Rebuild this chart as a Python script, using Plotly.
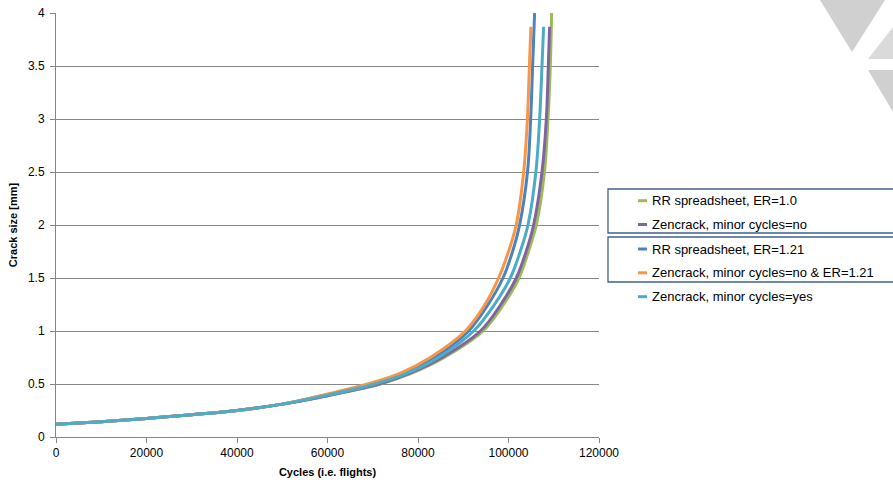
import plotly.graph_objects as go

# ---------------- data ----------------
series_names = [
    "RR spreadsheet, ER=1.0",
    "Zencrack, minor cycles=no",
    "RR spreadsheet, ER=1.21",
    "Zencrack, minor cycles=no & ER=1.21",
    "Zencrack, minor cycles=yes",
]
series_colors = ["#9BBB59", "#8064A2", "#4F81BD", "#F79646", "#4BACC6"]

# common early part of all curves
common_cycles = [0, 10000, 20000, 30000, 40000, 50000]
common_crack = [0.12, 0.145, 0.175, 0.21, 0.25, 0.31]

# individual later parts
green_cycles = [60000, 71700, 78500, 85800, 94360, 98900, 102300, 104400, 106140, 107950, 108730, 109240, 109530]
green_crack = [0.39, 0.5, 0.6, 0.75, 1.0, 1.25, 1.5, 1.75, 2.0, 2.5, 3.0, 3.5, 4.0]

purple_cycles = [60000, 71400, 78100, 85300, 93780, 98300, 101720, 103900, 105550, 107400, 108360, 108800, 109080]
purple_crack = [0.39, 0.5, 0.6, 0.75, 1.0, 1.25, 1.5, 1.75, 2.0, 2.5, 3.0, 3.5, 3.87]

blue_cycles = [60000, 69600, 76800, 83700, 91190, 95500, 98780, 100900, 102450, 104200, 104900, 105330, 105770]
blue_crack = [0.40, 0.5, 0.6, 0.75, 1.0, 1.25, 1.5, 1.75, 2.0, 2.5, 3.0, 3.5, 4.0]

orange_cycles = [60000, 68800, 76000, 82700, 90450, 94800, 97800, 100000, 101700, 103350, 104180, 104620, 104950]
orange_crack = [0.405, 0.5, 0.6, 0.75, 1.0, 1.25, 1.5, 1.75, 2.0, 2.5, 3.0, 3.5, 3.87]

teal_cycles = [60000, 70500, 77500, 84500, 92300, 96900, 100400, 102600, 104300, 106050, 106880, 107400, 107760]
teal_crack = [0.395, 0.5, 0.6, 0.75, 1.0, 1.25, 1.5, 1.75, 2.0, 2.5, 3.0, 3.5, 3.87]

x_ticks = [0, 20000, 40000, 60000, 80000, 100000, 120000]
y_ticks = [0, 0.5, 1, 1.5, 2, 2.5, 3, 3.5, 4]

series_x = [green_cycles, purple_cycles, blue_cycles, orange_cycles, teal_cycles]
series_y = [green_crack, purple_crack, blue_crack, orange_crack, teal_crack]

# ---------------- layout geometry ----------------
W, H = 893, 485
ML, MR, MT, MB = 56, 294, 13, 48
PW = W - ML - MR
PH = H - MT - MB


def px(xpage):
    return (xpage - ML) / PW


def py(ypage):
    return (H - MB - ypage) / PH


fig = go.Figure()
for name, color, xs, ys in zip(series_names, series_colors, series_x, series_y):
    fig.add_trace(go.Scatter(
        x=common_cycles + xs,
        y=common_crack + ys,
        mode="lines",
        name=name,
        line=dict(color=color, width=3, shape="spline", smoothing=1.0),
        showlegend=False,
        cliponaxis=False,
        hoverinfo="skip",
    ))

shapes = []
annotations = []

# watermark triangles (top-right corner)
tri_color = "#D0D0D0"
for pts, col in [
    ([(820, 0), (885, 0), (852, 52)], tri_color),
    ([(868, 59), (893, 59), (893, 27)], "#DADADA"),
    ([(868, 70), (893, 70), (900, 86), (893, 112)], tri_color),
]:
    path = "M " + " L ".join(f"{px(a):.5f},{py(b):.5f}" for a, b in pts) + " Z"
    shapes.append(dict(type="path", xref="paper", yref="paper", path=path,
                       fillcolor=col, line=dict(width=0), layer="below"))

# legend group boxes
box_color = "#41618C"
for y0, y1 in [(189, 233), (237, 282)]:
    shapes.append(dict(type="rect", xref="paper", yref="paper",
                       x0=px(608), x1=px(900), y0=py(y1), y1=py(y0),
                       line=dict(color=box_color, width=1.3)))

# legend entries
legend_y = [200.7, 224.5, 249, 272.8, 296.7]
for name, color, ly in zip(series_names, series_colors, legend_y):
    shapes.append(dict(type="line", xref="paper", yref="paper",
                       x0=px(638), x1=px(647), y0=py(ly), y1=py(ly),
                       line=dict(color=color, width=3)))
    annotations.append(dict(xref="paper", yref="paper", x=px(650), y=py(ly),
                            xanchor="left", yanchor="middle", showarrow=False,
                            text=name,
                            font=dict(family="Liberation Sans", size=13, color="#000000")))

fig.update_layout(
    width=W, height=H,
    margin=dict(l=ML, r=MR, t=MT, b=MB, pad=0),
    paper_bgcolor="white", plot_bgcolor="white",
    font=dict(family="Liberation Sans", size=12, color="#000000"),
    shapes=shapes,
    annotations=annotations,
    showlegend=False,
    hovermode=False,
    xaxis=dict(
        range=[0, 120000], tickvals=x_ticks, ticktext=[str(v) for v in x_ticks],
        showgrid=False, zeroline=False,
        showline=True, linecolor="#868686", linewidth=1,
        ticks="outside", ticklen=5, tickcolor="#868686",
        ticklabeloverflow="allow",
        tickfont=dict(family="Liberation Sans", size=12, color="#000000"),
        title=dict(text="<b>Cycles (i.e. flights)</b>", standoff=8,
                   font=dict(family="Liberation Sans", size=11, color="#000000")),
        automargin=False,
    ),
    yaxis=dict(
        range=[0, 4.0001], tickvals=y_ticks, ticktext=[f"{v:g}" for v in y_ticks],
        showgrid=True, gridcolor="#868686", gridwidth=1, zeroline=False,
        showline=True, linecolor="#868686", linewidth=1,
        ticks="outside", ticklen=5, tickcolor="#868686",
        ticklabelstandoff=3,
        ticklabeloverflow="allow",
        tickfont=dict(family="Liberation Sans", size=12, color="#000000"),
        title=dict(text="<b>Crack size [mm]</b>", standoff=8,
                   font=dict(family="Liberation Sans", size=11, color="#000000")),
        automargin=False,
    ),
)

fig.write_html("out.html",
               config={"displayModeBar": False, "staticPlot": True},
               post_script="document.body.style.margin='0';document.body.style.overflow='hidden';")
